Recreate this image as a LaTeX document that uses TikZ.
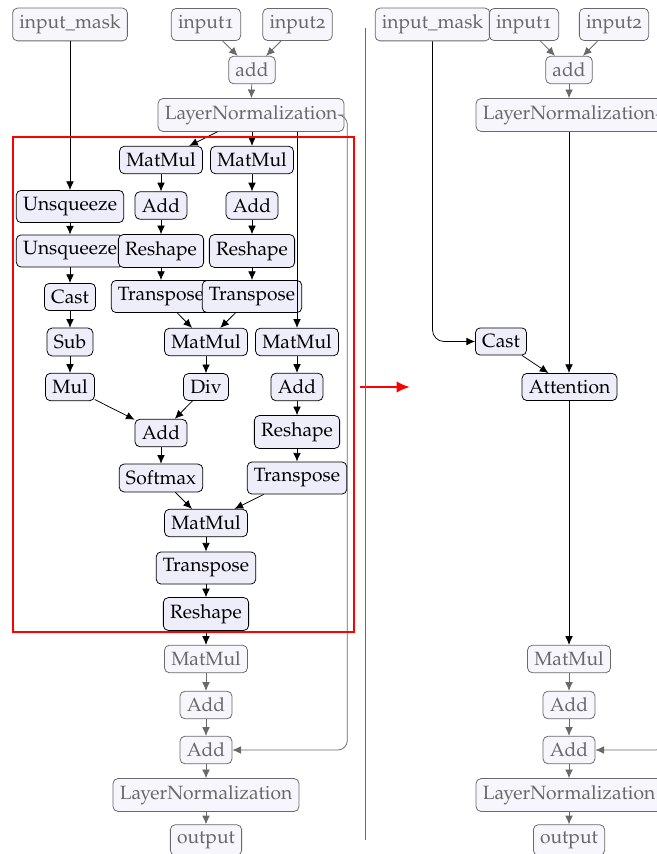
\documentclass[tikz,border=0pt]{standalone}
\usepackage[T1]{fontenc}
\usepackage[osf]{mathpazo}
\usetikzlibrary{arrows.meta}
\definecolor{nodefill}{RGB}{238,238,250}
\definecolor{fadefill}{RGB}{246,246,252}
\definecolor{fadegray}{RGB}{105,105,105}

\begin{document}
\begin{tikzpicture}[x=0.52pt,y=-0.52pt,
    op/.style={draw=black,fill=nodefill,rounded corners=2.5pt,inner sep=3.5pt,text=black},
    faded/.style={draw=fadegray,fill=fadefill,rounded corners=2.5pt,inner sep=3.5pt,text=fadegray},
    link/.style={draw=black,-{Latex[length=4.5pt,width=4pt]}},
    fadelink/.style={draw=fadegray,-{Latex[length=4.5pt,width=4pt]}}]
    \useasboundingbox (0,0) rectangle (656,854);

    \node[faded] (imaskL) at (70,24.5) {input\_mask};
    \node[faded] (inaL) at (206,24.5) {input1};
    \node[faded] (inbL) at (297.5,24.5) {input2};
    \node[faded] (addL) at (252,70) {add};
    \node[faded] (lnL) at (251,115) {LayerNormalization};

    \node[op] (mmq) at (161,160) {MatMul};
    \node[op] (mmk) at (252,160) {MatMul};
    \node[op] (unsqa) at (70,206.5) {Unsqueeze};
    \node[op] (addq) at (161,205.5) {Add};
    \node[op] (addk) at (252,205.5) {Add};
    \node[op] (unsqb) at (70,251) {Unsqueeze};
    \node[op] (reshq) at (161,251) {Reshape};
    \node[op] (reshk) at (252,251) {Reshape};
    \node[op] (castL) at (70,297) {Cast};
    \node[op] (trq) at (161,296.5) {Transpose};
    \node[op] (trk) at (252,296.5) {Transpose};
    \node[op] (sub) at (70,342) {Sub};
    \node[op] (mmqk) at (206,342) {MatMul};
    \node[op] (mmv) at (297,342) {MatMul};
    \node[op] (mul) at (70,387) {Mul};
    \node[op] (div) at (206,387) {Div};
    \node[op] (addv) at (297,387) {Add};
    \node[op] (addm) at (161,433) {Add};
    \node[op] (reshv) at (297,432) {Reshape};
    \node[op] (soft) at (161,478) {Softmax};
    \node[op] (trv) at (297,478) {Transpose};
    \node[op] (mmo) at (206,523) {MatMul};
    \node[op] (tro) at (206,568) {Transpose};
    \node[op] (resho) at (206,614) {Reshape};

    \node[faded] (mmL) at (206,659) {MatMul};
    \node[faded] (addaL) at (206,705) {Add};
    \node[faded] (addbL) at (206,750) {Add};
    \node[faded] (lnbL) at (206,795) {LayerNormalization};
    \node[faded] (outL) at (206,840) {output};

    \draw[fadelink] (inaL) -- (addL);
    \draw[fadelink] (inbL) -- (addL);
    \draw[fadelink] (addL) -- (lnL);
    \draw[link] (imaskL) -- (unsqa);
    \draw[link] (lnL) -- (mmq);
    \draw[link] (lnL.south -| mmk) -- (mmk);
    \draw[link] (lnL.south -| mmv) -- (mmv);
    \draw[link] (mmq) -- (addq);
    \draw[link] (addq) -- (reshq);
    \draw[link] (reshq) -- (trq);
    \draw[link] (trq) -- (mmqk);
    \draw[link] (mmk) -- (addk);
    \draw[link] (addk) -- (reshk);
    \draw[link] (reshk) -- (trk);
    \draw[link] (trk) -- (mmqk);
    \draw[link] (unsqa) -- (unsqb);
    \draw[link] (unsqb) -- (castL);
    \draw[link] (castL) -- (sub);
    \draw[link] (sub) -- (mul);
    \draw[link] (mul) -- (addm);
    \draw[link] (mmqk) -- (div);
    \draw[link] (div) -- (addm);
    \draw[link] (addm) -- (soft);
    \draw[link] (soft) -- (mmo);
    \draw[link] (mmv) -- (addv);
    \draw[link] (addv) -- (reshv);
    \draw[link] (reshv) -- (trv);
    \draw[link] (trv) -- (mmo);
    \draw[link] (mmo) -- (tro);
    \draw[link] (tro) -- (resho);
    \draw[link] (resho) -- (mmL);
    \draw[fadelink] (mmL) -- (addaL);
    \draw[fadelink] (addaL) -- (addbL);
    \draw[fadelink] (addbL) -- (lnbL);
    \draw[fadelink] (lnbL) -- (outL);
    \draw[fadelink, rounded corners=5pt] (lnL.east) -- ++(3,0) |- (addbL.east);

    \draw[red, line width=1.2pt] (13,137) rectangle (354,632);
    \coordinate (redA) at (360,387);
    \coordinate (redB) at (410,387);
    \draw[red, line width=1.2pt, -{Latex[length=7pt,width=6pt]}] (redA) -- (redB);
    \coordinate (sepA) at (365,28);
    \coordinate (sepB) at (365,840);
    \draw[fadegray] (sepA) -- (sepB);

    \node[faded] (imaskR) at (432.5,24.5) {input\_mask};
    \node[faded] (inaR) at (524,24.5) {input1};
    \node[faded] (inbR) at (614,24.5) {input2};
    \node[faded] (addR) at (569,70) {add};
    \node[faded] (lnR) at (569,115) {LayerNormalization};
    \node[op] (castR) at (501,341.5) {Cast};
    \node[op] (attn) at (569.5,387) {Attention};
    \node[faded] (mmR) at (569,659) {MatMul};
    \node[faded] (addaR) at (569,705) {Add};
    \node[faded] (addbR) at (569,750) {Add};
    \node[faded] (lnbR) at (569,795) {LayerNormalization};
    \node[faded] (outR) at (569,840) {output};

    \draw[fadelink] (inaR) -- (addR);
    \draw[fadelink] (inbR) -- (addR);
    \draw[fadelink] (addR) -- (lnR);
    \draw[link, rounded corners=6pt] (imaskR) |- (castR);
    \draw[link] (lnR) -- (attn.north -| lnR);
    \draw[link] (castR) -- (attn);
    \draw[link] (attn.south -| mmR) -- (mmR);
    \draw[fadelink] (mmR) -- (addaR);
    \draw[fadelink] (addaR) -- (addbR);
    \draw[fadelink] (addbR) -- (lnbR);
    \draw[fadelink] (lnbR) -- (outR);
    \draw[fadelink, rounded corners=5pt] (lnR.east) -- ++(3,0) |- (addbR.east);
\end{tikzpicture}
\end{document}
